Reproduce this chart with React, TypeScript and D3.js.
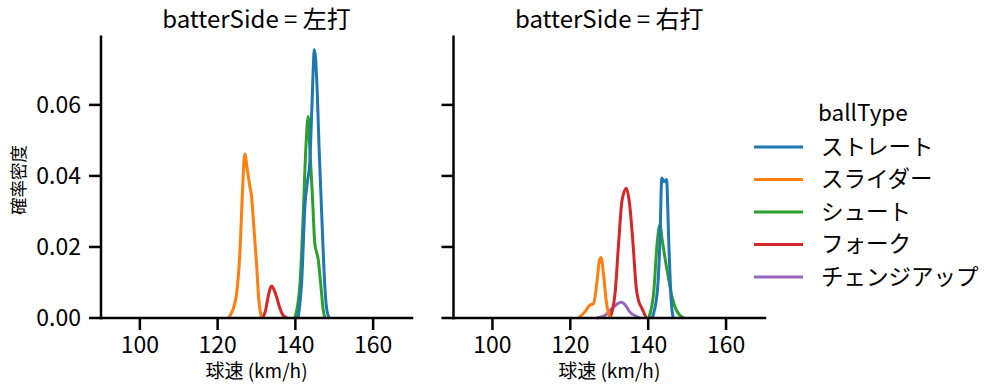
import React from 'react';
import * as d3 from 'd3';

// ball types and colours (legend order)
const ballTypes = ['ストレート', 'スライダー', 'シュート', 'フォーク', 'チェンジアップ'];
const colors = ['#1f77b4', '#ff7f0e', '#2ca02c', '#d62728', '#9467bd'];

// KDE curves: [speed km/h, density]
const leftStraight: [number, number][] = [
  [140.7, 0], [141.6, 0.0098], [142.5, 0.0323], [143.1, 0.0384], [143.7, 0.0436],
  [144.2, 0.0577], [144.9, 0.0755], [145.5, 0.067], [146.1, 0.048], [146.8, 0.0285],
  [147.4, 0.0126], [148.0, 0.003], [148.7, 0],
];
const leftSlider: [number, number][] = [
  [122.7, 0], [123.6, 0.0015], [124.9, 0.007], [125.8, 0.02], [126.4, 0.036],
  [127.0, 0.0462], [127.6, 0.042], [128.3, 0.037], [128.7, 0.0345], [129.3, 0.026],
  [130.0, 0.0154], [130.6, 0.005], [131.3, 0],
];
const leftShoot: [number, number][] = [
  [139.9, 0], [141.2, 0.0098], [142.0, 0.0285], [142.7, 0.048], [143.3, 0.0567],
  [143.7, 0.048], [144.4, 0.034], [145.0, 0.021], [145.9, 0.0163], [146.5, 0.0098],
  [147.2, 0.002], [147.6, 0],
];
const leftFork: [number, number][] = [
  [131.6, 0], [132.3, 0.002], [133.0, 0.006], [133.5, 0.0083], [133.9, 0.009],
  [134.5, 0.008], [135.2, 0.0058], [136.0, 0.0028], [136.8, 0.0008], [137.9, 0],
];
const leftChange: [number, number][] = [];

const rightStraight: [number, number][] = [
  [141.0, 0], [142.3, 0.007], [143.0, 0.021], [143.5, 0.0394], [144.1, 0.0384],
  [144.7, 0.039], [145.3, 0.021], [145.9, 0.005], [146.4, 0],
];
const rightSlider: [number, number][] = [
  [122.1, 0], [123.8, 0.0018], [124.9, 0.0035], [126.0, 0.0041], [126.8, 0.0098],
  [127.5, 0.0163], [127.9, 0.017], [128.5, 0.0126], [129.2, 0.005], [129.8, 0.0013],
  [130.3, 0],
];
const rightShoot: [number, number][] = [
  [140.1, 0], [141.4, 0.007], [142.3, 0.021], [143.0, 0.0262], [143.6, 0.022],
  [144.4, 0.0163], [145.3, 0.0107], [146.1, 0.006], [147.2, 0.0023], [149.1, 0],
];
const rightFork: [number, number][] = [
  [130.2, 0], [131.5, 0.007], [132.4, 0.021], [133.3, 0.0332], [134.4, 0.0365],
  [135.2, 0.0323], [136.1, 0.021], [136.9, 0.0088], [137.5, 0.005], [138.4, 0.0027],
  [139.5, 0],
];
const rightChange: [number, number][] = [
  [126.8, 0], [129.0, 0.0008], [130.7, 0.0027], [132.0, 0.0039], [133.1, 0.0044],
  [134.1, 0.0037], [135.2, 0.0018], [136.7, 0.0006], [137.9, 0],
];

const panels = [
  { title: 'batterSide = 左打', x0: 101, x1: 412, series: [leftStraight, leftSlider, leftShoot, leftFork, leftChange] },
  { title: 'batterSide = 右打', x0: 453.5, x1: 765, series: [rightStraight, rightSlider, rightShoot, rightFork, rightChange] },
];

const xTicks = [100, 120, 140, 160];
const yTicks = [0, 0.02, 0.04, 0.06];

const font = '"Noto Sans CJK JP", "Noto Sans", sans-serif';
const top = 36.7;
const bottom = 318;

export default function App() {
  const y = d3.scaleLinear().domain([0, 0.0792]).range([bottom, top]);

  return (
    <svg width={999} height={391} style={{ position: 'absolute', left: 0, top: 0 }} fontFamily={font}>
      <rect width={999} height={391} fill="white" />
      {panels.map((p, pi) => {
        const x = d3.scaleLinear().domain([90, 170]).range([p.x0, p.x1]);
        const line = d3
          .line<[number, number]>()
          .x((d) => x(d[0]))
          .y((d) => y(d[1]))
          .curve(d3.curveMonotoneX);
        const mid = (p.x0 + p.x1) / 2;
        return (
          <g key={pi}>
            <text x={mid} y={28} textAnchor="middle" fontSize={24}>{p.title}</text>
            {/* curves, first hue on top */}
            {p.series
              .map((s, i) => ({ s, i }))
              .reverse()
              .map(({ s, i }) =>
                s.length ? (
                  <path key={i} d={line(s) ?? ''} fill="none" stroke={colors[i]} strokeWidth={3} strokeLinejoin="round" />
                ) : null
              )}
            {/* y axis */}
            <line x1={p.x0} x2={p.x0} y1={top} y2={bottom} stroke="black" strokeWidth={2.5} strokeLinecap="square" />
            {yTicks.map((t) => (
              <g key={t}>
                <line x1={p.x0 - 12} x2={p.x0} y1={y(t)} y2={y(t)} stroke="black" strokeWidth={2.5} />
                {pi === 0 && (
                  <text x={p.x0 - 20} y={y(t)} dy="0.35em" textAnchor="end" fontSize={23}>
                    {t.toFixed(2)}
                  </text>
                )}
              </g>
            ))}
            {/* x axis */}
            <line x1={p.x0} x2={p.x1} y1={bottom} y2={bottom} stroke="black" strokeWidth={2.5} strokeLinecap="square" />
            {xTicks.map((t) => (
              <g key={t}>
                <line x1={x(t)} x2={x(t)} y1={bottom} y2={bottom + 12} stroke="black" strokeWidth={2.5} />
                <text x={x(t)} y={353} textAnchor="middle" fontSize={23}>{t}</text>
              </g>
            ))}
            <text x={mid} y={378} textAnchor="middle" fontSize={19}>球速 (km/h)</text>
          </g>
        );
      })}
      <text transform="translate(25,180) rotate(-90)" textAnchor="middle" fontSize={17.5}>確率密度</text>
      {/* legend */}
      <text x={818} y={121} fontSize={22.5}>ballType</text>
      {ballTypes.map((b, i) => (
        <g key={b}>
          <line x1={754} x2={803} y1={147 + i * 32.5} y2={147 + i * 32.5} stroke={colors[i]} strokeWidth={3} />
          <text x={821} y={147 + i * 32.5} dy="0.35em" fontSize={22.5}>{b}</text>
        </g>
      ))}
    </svg>
  );
}
